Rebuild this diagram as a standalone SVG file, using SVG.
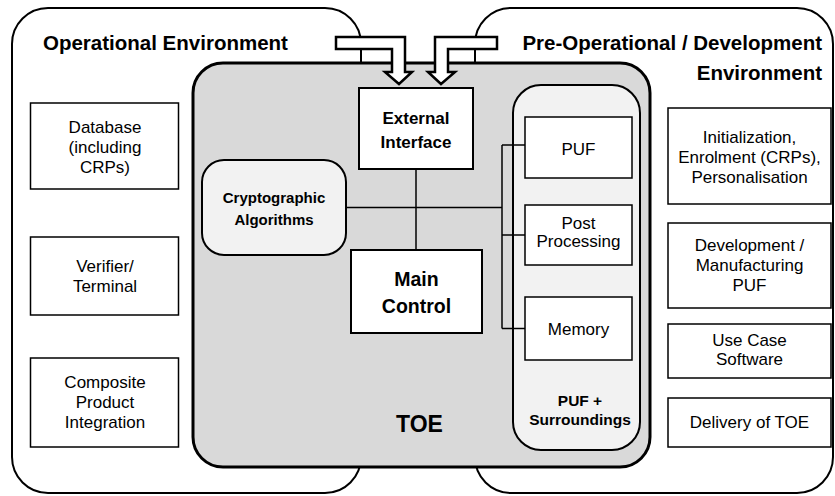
<svg xmlns="http://www.w3.org/2000/svg" width="835" height="496" viewBox="0 0 835 496">
<style>
.env{fill:#ffffff;stroke:#000;stroke-width:2}
.box{fill:#ffffff;stroke:#000;stroke-width:1.5}
.bbox{fill:#ffffff;stroke:#000;stroke-width:2}
.soft{fill:#f2f2f2;stroke:#000;stroke-width:2}
.t{font-family:"Liberation Sans",Arial,sans-serif;font-size:17px;text-anchor:middle;fill:#000}
.b{font-family:"Liberation Sans",Arial,sans-serif;font-weight:bold;text-anchor:middle;fill:#000}
.h{font-family:"Liberation Sans",Arial,sans-serif;font-weight:bold;font-size:20.5px;fill:#000}
.ln{stroke:#000;stroke-width:1.5;fill:none}
.arr{fill:#fff;stroke:#000;stroke-width:2.5;stroke-linejoin:miter}
</style>
<g id="operational-environment">
<rect class="env" x="12" y="8" width="349" height="485" rx="36" ry="36"/>
<text class="h" x="43" y="50">Operational Environment</text>
</g>
<g id="preoperational-environment">
<rect class="env" x="475" y="8" width="358" height="485" rx="36" ry="36"/>
<text class="h" x="822" y="50" text-anchor="end">Pre-Operational / Development</text>
<text class="h" x="822" y="80" text-anchor="end">Environment</text>
</g>
<g id="database">
<rect class="box" x="30.5" y="103" width="148" height="86"/>
<text class="t" x="105" y="133">Database</text>
<text class="t" x="105" y="153">(including</text>
<text class="t" x="105" y="173">CRPs)</text>
</g>
<g id="verifier">
<rect class="box" x="30.5" y="237" width="148" height="78"/>
<text class="t" x="105" y="272">Verifier/</text>
<text class="t" x="105" y="292">Terminal</text>
</g>
<g id="composite">
<rect class="box" x="30.5" y="358" width="148" height="89"/>
<text class="t" x="105" y="388">Composite</text>
<text class="t" x="105" y="408">Product</text>
<text class="t" x="105" y="428">Integration</text>
</g>
<g id="initialization">
<rect class="box" x="668" y="108" width="163" height="96"/>
<text class="t" x="749.5" y="143">Initialization,</text>
<text class="t" x="749.5" y="163">Enrolment (CRPs),</text>
<text class="t" x="749.5" y="183">Personalisation</text>
</g>
<g id="development">
<rect class="box" x="668" y="223" width="163" height="85"/>
<text class="t" x="749.5" y="251">Development /</text>
<text class="t" x="749.5" y="271">Manufacturing</text>
<text class="t" x="749.5" y="291">PUF</text>
</g>
<g id="use-case-software">
<rect class="box" x="668" y="324" width="163" height="54"/>
<text class="t" x="749.5" y="346">Use Case</text>
<text class="t" x="749.5" y="365">Software</text>
</g>
<g id="delivery">
<rect class="box" x="668" y="398" width="163" height="49"/>
<text class="t" x="749.5" y="428">Delivery of TOE</text>
</g>
<g id="toe">
<rect x="193" y="63" width="457" height="404" rx="30" ry="30" fill="#d9d9d9" stroke="#000" stroke-width="3"/>
<text class="b" x="419.5" y="432" font-size="23">TOE</text>
</g>
<g id="puf-surroundings">
<rect class="soft" x="513" y="85" width="127" height="365" rx="28" ry="28"/>
<text class="b" x="580" y="406" font-size="15.5">PUF +</text>
<text class="b" x="580" y="425" font-size="15.5">Surroundings</text>
</g>
<g id="connectors">
<line class="ln" x1="416" y1="169" x2="416" y2="250"/>
<line class="ln" x1="346" y1="207.5" x2="502" y2="207.5"/>
<line class="ln" x1="502" y1="145" x2="502" y2="328.5"/>
<line class="ln" x1="502" y1="145" x2="525" y2="145"/>
<line class="ln" x1="502" y1="235" x2="525" y2="235"/>
<line class="ln" x1="502" y1="328.5" x2="525" y2="328.5"/>
<polygon class="arr" points="336,37 405,37 405,72 412,72 399,84 385,72 392,72 392,49 336,49"/>
<polygon class="arr" points="497,37 435,37 435,72 428,72 441,84 455,72 448,72 448,49 497,49"/>
</g>
<g id="external-interface">
<rect class="bbox" x="359" y="88" width="114" height="81"/>
<text class="b" x="416" y="124" font-size="17">External</text>
<text class="b" x="416" y="148" font-size="17">Interface</text>
</g>
<g id="crypto">
<rect class="soft" x="202" y="160" width="144" height="95" rx="22" ry="22"/>
<text class="b" x="274" y="203" font-size="15">Cryptographic</text>
<text class="b" x="274" y="225" font-size="15">Algorithms</text>
</g>
<g id="main-control">
<rect class="bbox" x="351" y="250" width="131" height="83"/>
<text class="b" x="416.5" y="286" font-size="19.5">Main</text>
<text class="b" x="416.5" y="313" font-size="19.5">Control</text>
</g>
<g id="puf">
<rect class="box" x="525" y="117" width="107" height="61"/>
<text class="t" x="578.5" y="155">PUF</text>
</g>
<g id="post-processing">
<rect class="box" x="525" y="205" width="107" height="60"/>
<text class="t" x="578.5" y="229">Post</text>
<text class="t" x="578.5" y="247">Processing</text>
</g>
<g id="memory">
<rect class="box" x="525" y="297" width="107" height="63"/>
<text class="t" x="578.5" y="335">Memory</text>
</g>
</svg>
